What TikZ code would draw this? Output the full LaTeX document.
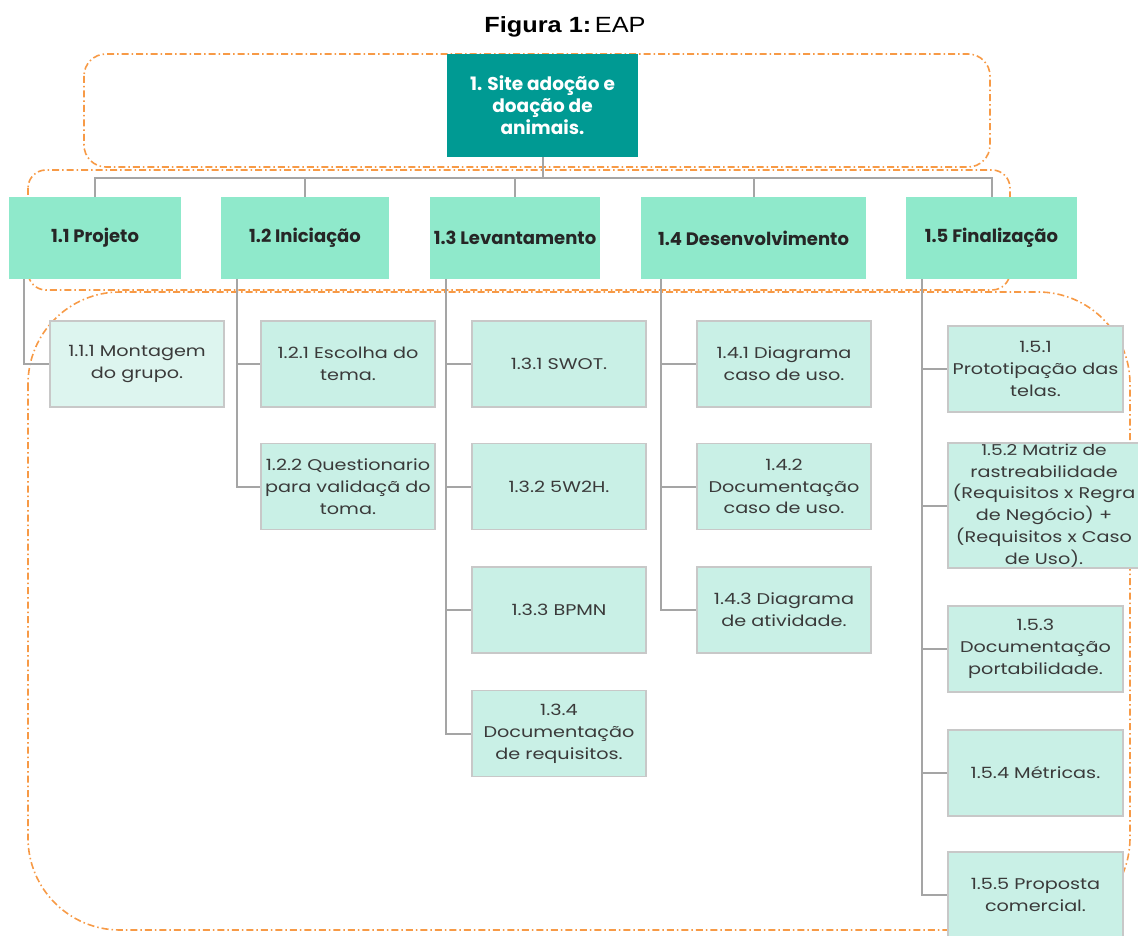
\documentclass[tikz,border=0pt]{standalone}
\usepackage{fontspec}
\setmainfont{Liberation Sans}
\newfontfamily\titlefont[FakeStretch=1.15]{Liberation Sans}
\newfontfamily\boxfont[FakeStretch=1.24]{Poppins}
\newfontfamily\headfont{Poppins}
\definecolor{rootfill}{HTML}{009A93}
\definecolor{lonefill}{HTML}{8FE9CB}
\definecolor{kidfill}{HTML}{C9F0E6}
\definecolor{kidlight}{HTML}{DDF5EF}
\definecolor{kidborder}{HTML}{C8C8C8}
\definecolor{conn}{HTML}{A5A5A5}
\definecolor{orng}{HTML}{F79A46}
\definecolor{txt}{HTML}{3A3A3A}
\begin{document}
\begin{tikzpicture}[x=1pt,y=-1pt,
  rootbox/.style={fill=rootfill,text=white,minimum width=191pt,minimum height=103pt,inner sep=0pt,align=center,font=\headfont\bfseries\fontsize{18.5}{22}\selectfont},
  lonebox/.style={fill=lonefill,text=black!85,minimum height=82pt,inner sep=0pt,align=center,font=\headfont\bfseries\fontsize{18}{21}\selectfont},
  kidbox/.style={fill=kidfill,draw=kidborder,line width=1.5pt,text=txt,minimum width=174pt,minimum height=86pt,inner sep=0pt,align=center,font=\boxfont\fontsize{15.5}{21.8}\selectfont},
  link/.style={draw=conn,line width=2pt},
  zone/.style={draw=orng,line width=1.6pt,dash pattern=on 7pt off 3pt on 1.5pt off 3pt}
]
\useasboundingbox (0,0) rectangle (1138,936);
\node (title) at (565,27) {\titlefont\fontsize{22}{26}\selectfont\textbf{Figura 1:}\,EAP};

% orange dash-dot zones
\draw[zone,rounded corners=22pt] (84,54) rectangle (990,167);
\draw[zone,rounded corners=18pt] (28,170) rectangle (1010,290);
\draw[zone,rounded corners=92pt] (28,292) rectangle (1130,930);

\node[rootbox] (root) at (542.5,105.5) {1. Site adoção e\\doação de\\animais.};

\node[lonebox,minimum width=172pt] (p1) at (95,238) {1.1 Projeto};
\node[lonebox,minimum width=168pt] (p2) at (305,238) {1.2 Iniciação};
\node[lonebox,minimum width=170pt] (p3) at (515,238) {1.3 Levantamento};
\node[lonebox,minimum width=225pt] (p4) at (753.5,238) {1.4 Desenvolvimento};
\node[lonebox,minimum width=171pt] (p5) at (991.5,238) {1.5 Finalização};

\node[kidbox,fill=kidlight] (c111) at (137,364) {1.1.1 Montagem\\do grupo.};
\node[kidbox] (c121) at (348,364) {1.2.1 Escolha do\\tema.};
\node[kidbox] (c122) at (348,486.5) {1.2.2 Questionario\\para validaçã do\\toma.};
\node[kidbox] (c131) at (559,364) {1.3.1 SWOT.};
\node[kidbox] (c132) at (559,486.5) {1.3.2 5W2H.};
\node[kidbox] (c133) at (559,610) {1.3.3 BPMN};
\node[kidbox] (c134) at (559,733.5) {1.3.4\\Documentação\\de requisitos.};
\node[kidbox] (c141) at (784,364) {1.4.1 Diagrama\\caso de uso.};
\node[kidbox] (c142) at (784,486.5) {1.4.2\\Documentação\\caso de uso.};
\node[kidbox] (c143) at (784,610) {1.4.3 Diagrama\\de atividade.};
\node[kidbox,minimum width=175pt] (c151) at (1035.5,369) {1.5.1\\Prototipação das\\telas.};
\node[kidbox,minimum width=192pt,minimum height=125pt] (c152) at (1044,505.5) {\fontsize{15}{21.5}\selectfont 1.5.2 Matriz de\\rastreabilidade\\(Requisitos x Regra\\de Negócio) +\\(Requisitos x Caso\\de Uso).};
\node[kidbox,minimum width=175pt] (c153) at (1035.5,649) {1.5.3\\Documentação\\portabilidade.};
\node[kidbox,minimum width=175pt] (c154) at (1035.5,773) {1.5.4 Métricas.};
\node[kidbox,minimum width=175pt] (c155) at (1035.5,895) {1.5.5 Proposta\\comercial.};

% level 1 connectors
\coordinate (bar) at (0,178);
\draw[link] (root.south) -- (root.south |- bar);
\draw[link] (p1.north) -- (p1.north |- bar) -- (p5.north |- bar) -- (p5.north);
\draw[link] (p2.north) -- (p2.north |- bar);
\draw[link] (p3.north) -- (p3.north |- bar);
\draw[link] (p4.north) -- (p4.north |- bar);

% level 2 connectors
\draw[link] ([xshift=15pt]p1.south west) |- (c111.west);
\draw[link] ([xshift=16pt]p2.south west) |- (c121.west);
\draw[link] ([xshift=16pt]p2.south west) |- (c122.west);
\draw[link] ([xshift=16pt]p3.south west) |- (c131.west);
\draw[link] ([xshift=16pt]p3.south west) |- (c132.west);
\draw[link] ([xshift=16pt]p3.south west) |- (c133.west);
\draw[link] ([xshift=16pt]p3.south west) |- (c134.west);
\draw[link] ([xshift=20pt]p4.south west) |- (c141.west);
\draw[link] ([xshift=20pt]p4.south west) |- (c142.west);
\draw[link] ([xshift=20pt]p4.south west) |- (c143.west);
\draw[link] ([xshift=16pt]p5.south west) |- (c151.west);
\draw[link] ([xshift=16pt]p5.south west) |- (c152.west);
\draw[link] ([xshift=16pt]p5.south west) |- (c153.west);
\draw[link] ([xshift=16pt]p5.south west) |- (c154.west);
\draw[link] ([xshift=16pt]p5.south west) |- (c155.west);
\end{tikzpicture}
\end{document}
